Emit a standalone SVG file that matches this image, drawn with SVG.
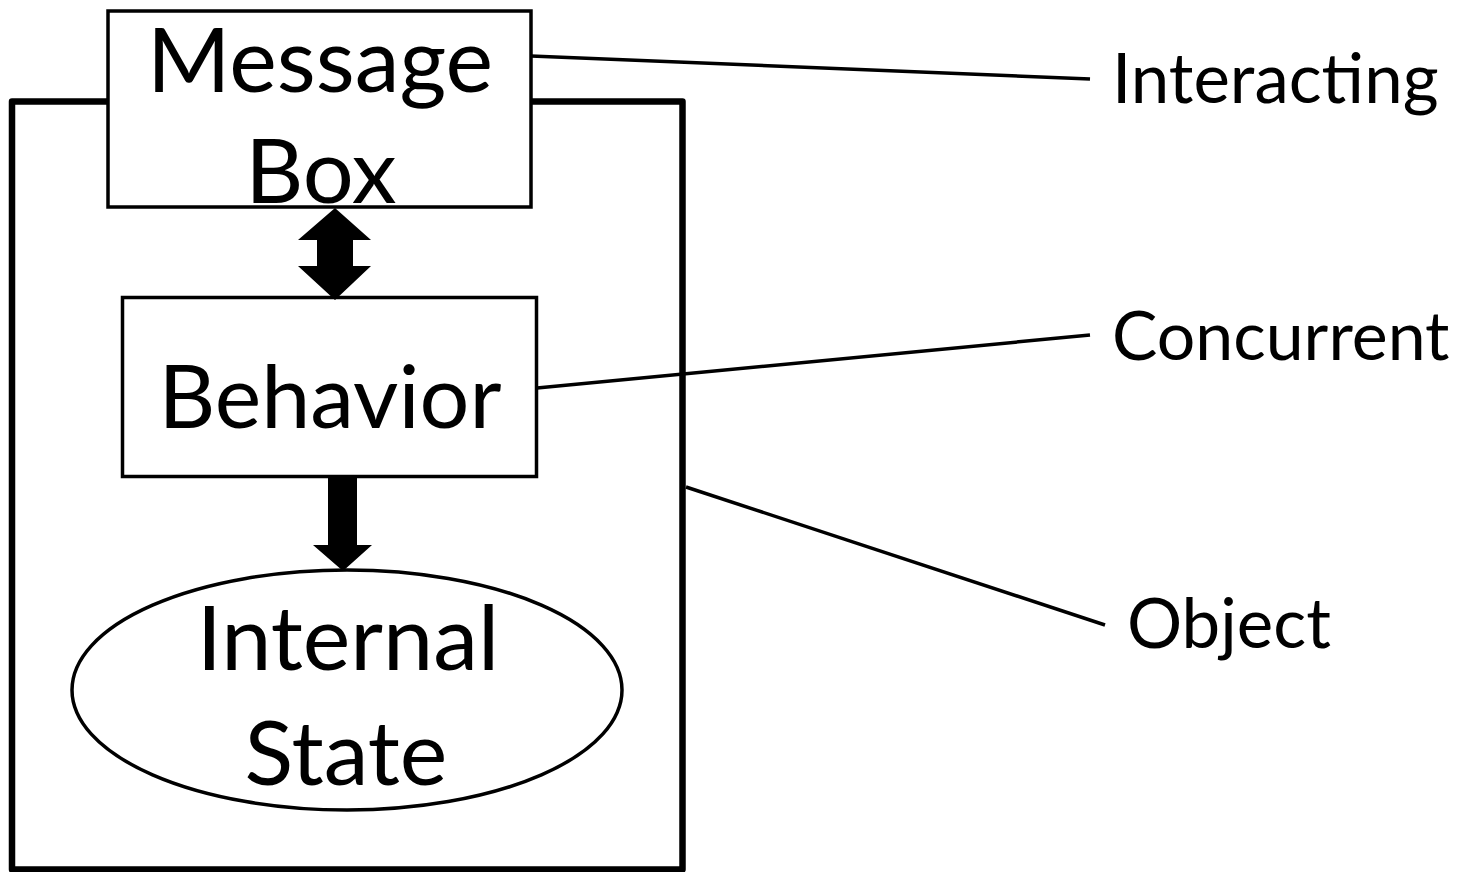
<svg xmlns="http://www.w3.org/2000/svg" width="1458" height="872" viewBox="0 0 1458 872">
<style>
.box{fill:#fff;stroke:#000;stroke-width:3.5}
.outer{fill:none;stroke:#000;stroke-width:6.5;stroke-linejoin:round}
.lbl{font-family:Lato,"Open Sans",sans-serif;fill:#000}
.node{font-size:90px;text-anchor:middle}
.side{font-size:69px}
.conn line{stroke:#000;stroke-width:3.5}
.arrow{fill:#000}
</style>
<rect width="1458" height="872" fill="#fff"/>
<g id="object">
<rect class="outer" x="12" y="101.5" width="670.5" height="768"/>
</g>
<g id="message-box">
<rect class="box" x="108" y="11" width="423" height="196"/>
<text class="lbl node" x="320" y="92">Message</text>
<text class="lbl node" x="321" y="203">Box</text>
</g>
<g id="behavior">
<rect class="box" x="122.5" y="297.5" width="414" height="179"/>
<text class="lbl node" x="330" y="428" style="font-size:88px">Behavior</text>
</g>
<g id="internal-state">
<ellipse class="box" cx="347" cy="690" rx="275" ry="120"/>
<text class="lbl node" x="348" y="670">Internal</text>
<text class="lbl node" x="346" y="785">State</text>
</g>
<g id="connectors">
<polygon class="arrow" points="335,208 371,240 353,240 353,266 371,266 335,300 298,266 317,266 317,240 298,240"/>
<polygon class="arrow" points="328,478 357,478 357,545 372,545 343,571 313,545 328,545"/>
<g class="conn">
<line x1="531" y1="56" x2="1090" y2="79"/>
<line x1="537" y1="388" x2="1090" y2="335"/>
<line x1="686" y1="487" x2="1105" y2="625"/>
</g>
</g>
<g id="labels">
<text class="lbl side" x="1112" y="103">Interacting</text>
<text class="lbl side" x="1112" y="360" style="font-size:68px">Concurrent</text>
<text class="lbl side" x="1127" y="648">Object</text>
</g>
</svg>
